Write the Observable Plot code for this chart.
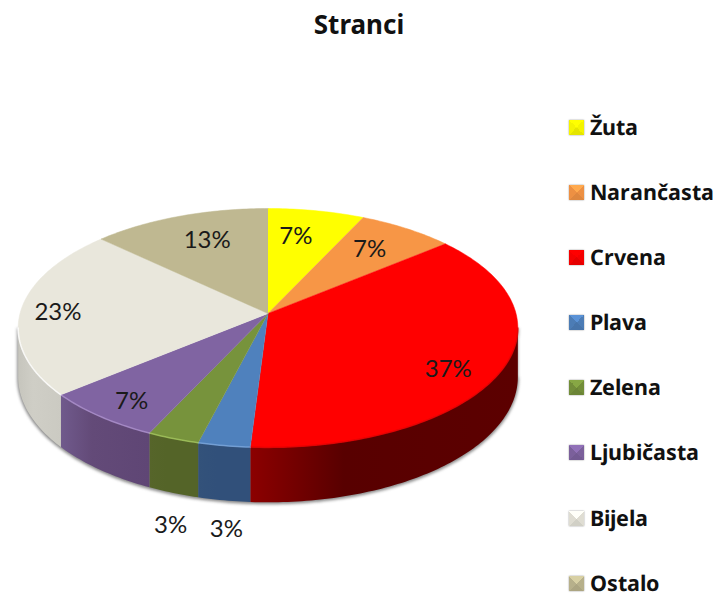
<!DOCTYPE html>
<html><head><meta charset="utf-8">
<script src="https://cdn.jsdelivr.net/npm/d3@7"></script>
<script src="https://cdn.jsdelivr.net/npm/@observablehq/plot@0.6"></script>
<style>
@font-face{font-family:"LegendNoto";font-weight:700;src:local("Noto Sans Bold"),local("NotoSans-Bold");ascent-override:80%;descent-override:10%;line-gap-override:0%}
html,body{margin:0;padding:0;background:#fff;overflow:hidden}
#page{position:relative;width:716px;height:594px;font-family:"Noto Sans",Lato,sans-serif}
#title{height:50px;line-height:50px;text-align:center;font-weight:700;font-size:26px;color:#111;padding-left:2px;margin-top:-1px;margin-bottom:1px}
#legend{position:absolute;left:568px;top:119.5px;width:148px;margin:0;padding:0;list-style:none;font-family:"LegendNoto","Noto Sans",sans-serif}
#legend li{height:18px;margin-bottom:47.1px;display:flex;align-items:center;font-weight:700;font-size:21.5px;color:#111;white-space:nowrap}
#legend li:last-child{margin-bottom:0}
#legend span{display:block;height:18px;line-height:18px;position:relative;top:.5px}
#legend i{display:block;width:15px;height:15px;margin:0 6px 0 1px;flex:none;box-shadow:0 0 1.5px rgba(0,0,0,.45)}
svg{display:block}
svg text{font-family:Lato,"Noto Sans",sans-serif}
</style></head>
<body><div id="page"><div id="title">Stranci</div><ul id="legend"></ul><div id="chart"></div></div>
<script>
const categories = ["Žuta","Narančasta","Crvena","Plava","Zelena","Ljubičasta","Bijela","Ostalo"];
const percents   = [7,7,37,3,3,7,23,13];
const topColors  = ["#ffff00","#f79646","#ff0000","#4f81bd","#77933c","#8064a2","#e9e7dc","#bfb891"];
const rimColors  = ["#ffff66","#fbbd85","#e00000","#7ba6dc","#a2c45c","#ab90cc","#ffffff","#dcd6b0"];
const sideStart  = ["#999900","#b06a30","#8c0000","#33527a","#56652a","#705a8c","#c6c5bd","#8f8a6a"];
const sideMiddle = ["#999900","#b06a30","#580000","#31507a","#546428","#634a78","#cfcec6","#8f8a6a"];
const sideEnd    = ["#999900","#b06a30","#5c0000","#31507a","#546428","#5f4675","#cbcac2","#8f8a6a"];
const labelRadius = [.721,.729,.8215,1.508,1.514,.851,.848,.721];
const labelNudge  = [-.05,-.014,.108,-.066,-.131,-.025,-.022,.032];

// Pie projection (perspective-tilted disc, in pie units)
const tilt = .121, depth = .41;
const W = 716, H = 544, unitX = 248, unitY = 117.7, apexX = 267.5, apexY = 263;
const project = (r, a, z = 0) => {
  const u = r * Math.cos(a), v = r * Math.sin(a), w = 1 + tilt * u;
  return {x: v / w, y: (u - z) / w};
};
const arc = (a0, a1, z = 0) => {
  const n = Math.max(2, Math.ceil((a1 - a0) * 60));
  return d3.range(n + 1).map(i => project(1, a0 + (a1 - a0) * i / n, z));
};
const total = d3.sum(percents), TAU = 2 * Math.PI;
const cum = d3.cumsum(percents);
const slices = categories.map((name, i) => ({
  name, i, value: percents[i],
  a0: (cum[i] - percents[i]) / total * TAU, a1: cum[i] / total * TAU
}));
const frontStart = Math.acos(-tilt), frontEnd = TAU - frontStart;
const front = slices.map(s => ({...s, f0: Math.max(s.a0, frontStart), f1: Math.min(s.a1, frontEnd)})).filter(s => s.f1 > s.f0);
const outlineBottom = [...arc(frontStart, frontEnd, 0), ...arc(frontStart, frontEnd, depth).reverse()];
const labels = slices.map(s => ({
  ...project(labelRadius[s.i], (s.a0 + s.a1) / 2 + labelNudge[s.i]),
  text: `${s.value}%`
}));

const defs = () => {
  const d = d3.create("svg:defs");
  front.forEach(s => {
    const g = d.append("linearGradient").attr("id", `side${s.i}`).attr("x1", 0).attr("x2", 1).attr("y1", 0).attr("y2", 0);
    [[0, sideStart], [.35, sideMiddle], [1, sideEnd]].forEach(([o, c]) =>
      g.append("stop").attr("offset", o).attr("stop-color", c[s.i]));
  });
  return d.node();
};

const chart = Plot.plot({
  width: W, height: H, margin: 0,
  x: {domain: [-apexX / unitX, (W - apexX) / unitX], range: [0, W], axis: null},
  y: {domain: [apexY / unitY, (apexY - H) / unitY], range: [0, H], axis: null},
  marks: [
    defs,
    Plot.line(outlineBottom, {x: "x", y: "y", fill: "#8a8a8a", stroke: "#8a8a8a", strokeWidth: 2, imageFilter: "blur(1.5px)", dy: 1}),
    ...front.map(s => Plot.line(
      [...arc(s.f0, s.f1, 0), ...arc(s.f0, s.f1, depth).reverse()],
      {x: "x", y: "y", fill: `url(#side${s.i})`, stroke: "none"})),
    ...slices.map(s => Plot.line(
      [{x: 0, y: 0}, ...arc(s.a0, s.a1)],
      {x: "x", y: "y", fill: topColors[s.i], stroke: topColors[s.i], strokeWidth: .5})),
    ...front.map(s => Plot.line(arc(s.f0, s.f1), {x: "x", y: "y", stroke: rimColors[s.i], strokeWidth: 1.5, strokeOpacity: .8, imageFilter: "blur(.4px)"})),
    Plot.text(labels, {x: "x", y: "y", text: "text", fontSize: 24, fill: "#1a1a1a"})
  ]
});
document.getElementById("chart").append(chart);

const legend = d3.select("#legend").selectAll("li").data(categories).join("li");
legend.append("i").style("background", (d, i) => {
  const c = d3.color(topColors[i]), hi = c.brighter(.35), lo = c.darker(.3), lo2 = c.darker(.12);
  return `conic-gradient(from -45deg, ${hi} 0 25%, ${lo2} 25% 50%, ${lo} 50% 75%, ${lo2} 75% 100%)`;
});
legend.append("span").text(d => d);
</script></body></html>
